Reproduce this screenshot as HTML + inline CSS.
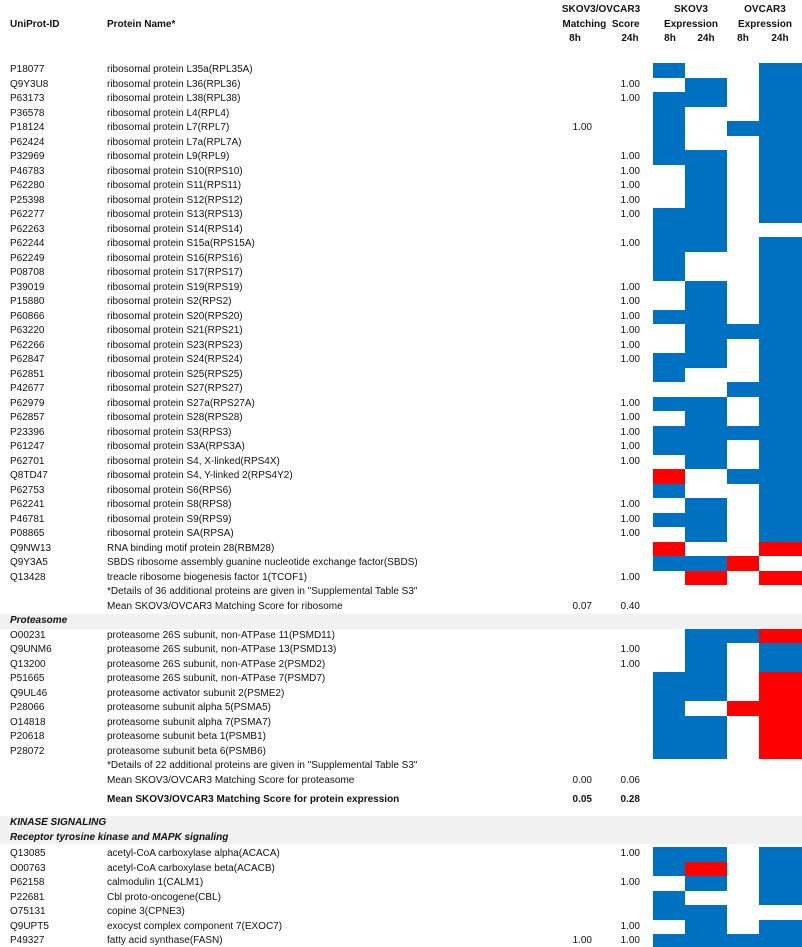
<!DOCTYPE html>
<html><head><meta charset="utf-8"><style>
body{margin:0;background:#fff;}
#root{position:relative;width:802px;height:947px;overflow:hidden;font-family:"Liberation Sans",sans-serif;font-size:10px;color:#111;}
.t{position:absolute;white-space:nowrap;line-height:12px;}
.b{font-weight:bold;}
.bi{font-weight:bold;font-style:italic;}
.r{text-align:right;}
.c{text-align:center;}
.band{position:absolute;left:0;width:802px;background:#f1f1f1;}
.cell{position:absolute;}
</style></head><body>
<div id="root">
<div class="band" style="top:614px;height:15px"></div>
<div class="band" style="top:816px;height:28px"></div>
<div class="t b" style="left:10px;top:19px">UniProt-ID</div>
<div class="t b" style="left:107px;top:19px">Protein Name*</div>
<div class="t b c" style="left:556px;width:90px;top:4px">SKOV3/OVCAR3</div>
<div class="t b c" style="left:556px;width:90px;top:19px">Matching&nbsp; Score</div>
<div class="t b c" style="left:560px;width:30px;top:33px">8h</div>
<div class="t b c" style="left:615px;width:30px;top:33px">24h</div>
<div class="t b c" style="left:655px;width:72px;top:4px">SKOV3</div>
<div class="t b c" style="left:655px;width:72px;top:19px">Expression</div>
<div class="t b c" style="left:729px;width:72px;top:4px">OVCAR3</div>
<div class="t b c" style="left:729px;width:72px;top:19px">Expression</div>
<div class="t b c" style="left:654px;width:32px;top:33px">8h</div>
<div class="t b c" style="left:690px;width:32px;top:33px">24h</div>
<div class="t b c" style="left:727px;width:32px;top:33px">8h</div>
<div class="t b c" style="left:764px;width:32px;top:33px">24h</div>
</div>
<script>
const ids=["P18077","Q9Y3U8","P63173","P36578","P18124","P62424","P32969","P46783","P62280","P25398","P62277","P62263","P62244","P62249","P08708","P39019","P15880","P60866","P63220","P62266","P62847","P62851","P42677","P62979","P62857","P23396","P61247","P62701","Q8TD47","P62753","P62241","P46781","P08865","Q9NW13","Q9Y3A5","Q13428","","","PROT","O00231","Q9UNM6","Q13200","P51665","Q9UL46","P28066","O14818","P20618","P28072"];
const names=["ribosomal protein L35a(RPL35A)","ribosomal protein L36(RPL36)","ribosomal protein L38(RPL38)","ribosomal protein L4(RPL4)","ribosomal protein L7(RPL7)","ribosomal protein L7a(RPL7A)","ribosomal protein L9(RPL9)","ribosomal protein S10(RPS10)","ribosomal protein S11(RPS11)","ribosomal protein S12(RPS12)","ribosomal protein S13(RPS13)","ribosomal protein S14(RPS14)","ribosomal protein S15a(RPS15A)","ribosomal protein S16(RPS16)","ribosomal protein S17(RPS17)","ribosomal protein S19(RPS19)","ribosomal protein S2(RPS2)","ribosomal protein S20(RPS20)","ribosomal protein S21(RPS21)","ribosomal protein S23(RPS23)","ribosomal protein S24(RPS24)","ribosomal protein S25(RPS25)","ribosomal protein S27(RPS27)","ribosomal protein S27a(RPS27A)","ribosomal protein S28(RPS28)","ribosomal protein S3(RPS3)","ribosomal protein S3A(RPS3A)","ribosomal protein S4, X-linked(RPS4X)","ribosomal protein S4, Y-linked 2(RPS4Y2)","ribosomal protein S6(RPS6)","ribosomal protein S8(RPS8)","ribosomal protein S9(RPS9)","ribosomal protein SA(RPSA)","RNA binding motif protein 28(RBM28)","SBDS ribosome assembly guanine nucleotide exchange factor(SBDS)","treacle ribosome biogenesis factor 1(TCOF1)","*Details of 36 additional proteins are given in \"Supplemental Table S3\"","Mean SKOV3/OVCAR3 Matching Score for ribosome","","proteasome 26S subunit, non-ATPase 11(PSMD11)","proteasome 26S subunit, non-ATPase 13(PSMD13)","proteasome 26S subunit, non-ATPase 2(PSMD2)","proteasome 26S subunit, non-ATPase 7(PSMD7)","proteasome activator subunit 2(PSME2)","proteasome subunit alpha 5(PSMA5)","proteasome subunit alpha 7(PSMA7)","proteasome subunit beta 1(PSMB1)","proteasome subunit beta 6(PSMB6)","*Details of 22 additional proteins are given in \"Supplemental Table S3\"","Mean SKOV3/OVCAR3 Matching Score for proteasome"];
const score8=["","","","","1.00","","","","","","","","","","","","","","","","","","","","","","","","","","","","","","","","","0.07","","","","","","","","","","","","0.00"];
const score24=["","1.00","1.00","","","","1.00","1.00","1.00","1.00","1.00","","1.00","","","1.00","1.00","1.00","1.00","1.00","1.00","","","1.00","1.00","1.00","1.00","1.00","","","1.00","1.00","1.00","","","1.00","","0.40","","","1.00","1.00","","","","","","","","0.06"];
// 0 none, 1 blue (expressed), 2 red; columns: SKOV3 8h, SKOV3 24h, OVCAR3 8h, OVCAR3 24h
const heat=[[1,0,0,1],[0,1,0,1],[1,1,0,1],[1,0,0,1],[1,0,1,1],[1,0,0,1],[1,1,0,1],[0,1,0,1],[0,1,0,1],[0,1,0,1],[1,1,0,1],[1,1,0,0],[1,1,0,1],[1,0,0,1],[1,0,0,1],[0,1,0,1],[0,1,0,1],[1,1,0,1],[0,1,1,1],[0,1,0,1],[1,1,0,1],[1,0,0,1],[0,0,1,1],[1,1,0,1],[0,1,0,1],[1,1,1,1],[1,1,0,1],[0,1,0,1],[2,0,1,1],[1,0,0,1],[0,1,0,1],[1,1,0,1],[0,1,0,1],[2,0,0,2],[1,1,2,0],[0,2,0,2],null,null,null,[0,1,1,2],[0,1,0,1],[0,1,0,1],[1,1,0,2],[1,1,0,2],[1,0,2,2],[1,1,0,2],[1,1,0,2],[1,1,0,2]];
const kIds=["Q13085","O00763","P62158","P22681","O75131","Q9UPT5","P49327"];
const kNames=["acetyl-CoA carboxylase alpha(ACACA)","acetyl-CoA carboxylase beta(ACACB)","calmodulin 1(CALM1)","Cbl proto-oncogene(CBL)","copine 3(CPNE3)","exocyst complex component 7(EXOC7)","fatty acid synthase(FASN)"];
const kScore8=["","","","","","","1.00"];
const kScore24=["1.00","","1.00","","","1.00","1.00"];
const kHeat=[[1,1,0,1],[1,2,0,1],[0,1,0,1],[1,0,0,1],[1,1,0,0],[0,1,0,1],[1,1,1,1]];

const root=document.getElementById('root');
const colX=[653,685,727,759], colW=[32,42,32,43];
const colors=["","#0070c0","#ff0000"];
function rowY(k){return 63+14.5*k;}
function kRowY(j){return 847+14.5*j;}
function txt(cls,left,top,s,w){const d=document.createElement('div');d.className='t '+cls;d.style.left=left+'px';d.style.top=top+'px';if(w){d.style.width=w+'px';}d.textContent=s;root.appendChild(d);return d;}
function drawRow(y,id,nm,s8,s24,h,bold){
  if(id){const d=txt('',10,y+1,id);
    
    }
  if(nm){const d=txt(bold?'b':'',107,y+1,nm);
    
    }
  if(s8){const d=txt('r'+(bold?' b':''),560,y+1,s8,32);
    
    }
  if(s24){const d=txt('r'+(bold?' b':''),600,y+1,s24,40);
    
    }
  if(h){h.forEach((v,c)=>{if(!v)return;const e=document.createElement('div');e.className='cell';
    e.style.left=colX[c]+'px';e.style.top=y+'px';e.style.width=colW[c]+'px';e.style.height='14.5px';e.style.background=colors[v];
    
    
    root.appendChild(e);});}
}
for(let k=0;k<names.length;k++){
  if(k===38){const d=txt('bi',10,rowY(k)+1,'Proteasome');
    
    continue;}
  const id=ids[k]||'';
  drawRow(rowY(k),id,names[k],score8[k],score24[k],heat[k]||null,false);
}
drawRow(793,'','Mean SKOV3/OVCAR3 Matching Score for protein expression','0.05','0.28',null,true);
{const d=txt('bi',10,817,'KINASE SIGNALING');

}
{const d=txt('bi',10,832,'Receptor tyrosine kinase and MAPK signaling');

}
for(let j=0;j<kIds.length;j++){drawRow(kRowY(j),kIds[j],kNames[j],kScore8[j],kScore24[j],kHeat[j],false);}
</script>
</body></html>
